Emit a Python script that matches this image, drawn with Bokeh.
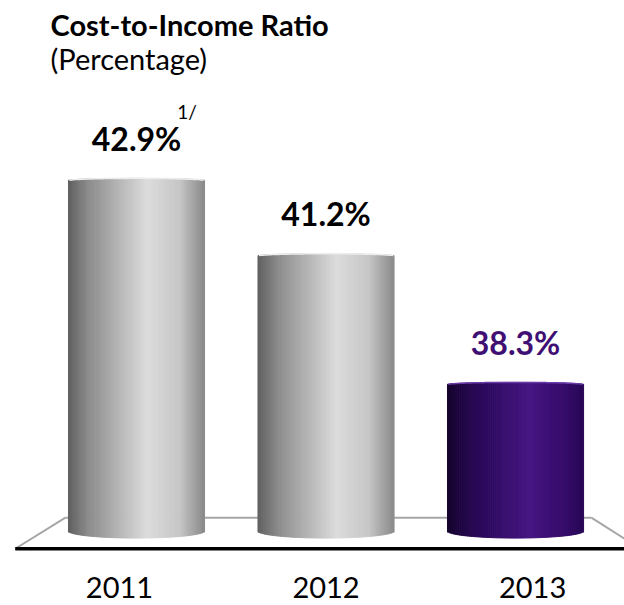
import numpy as np
from bokeh.plotting import figure
from bokeh.models import Range1d, Label, ColumnDataSource
from bokeh.core.properties import value
from bokeh.embed import file_html
from bokeh.resources import INLINE

# ---- data ----
years = ["2011", "2012", "2013"]
ratios = [42.9, 41.2, 38.3]
value_labels = ["42.9%", "41.2%", "38.3%"]
footnote = "1/"
highlight = [False, False, True]
title = "Cost-to-Income Ratio"
subtitle = "(Percentage)"
base_value = 35.0

FONT = "Lato"
W, H = 624, 605

p = figure(width=W, height=H, output_backend="svg", toolbar_location=None,
           x_axis_location=None, y_axis_location=None, min_border=0,
           x_range=Range1d(-0.7177, 2.575), y_range=Range1d(33.32, 46.96))
p.grid.visible = False
p.outline_line_color = None
p.background_fill_color = "white"
p.border_fill_color = "white"

# ---- floor ----
fl_back_y, fl_front_y = base_value + 0.30, base_value - 0.40
p.line([-0.375, 2.40], [fl_back_y, fl_back_y], line_color="#a6a6a6", line_width=2)
p.line([-0.375, -0.64], [fl_back_y, fl_front_y], line_color="#a6a6a6", line_width=2)
p.line([2.40, 2.60], [fl_back_y, fl_front_y + 0.16], line_color="#a6a6a6", line_width=2)
p.line([-0.64, 2.60], [fl_front_y, fl_front_y], line_color="black", line_width=3.5)

# ---- cylinders ----
gray_stops = [(0.0, (95, 95, 95)), (0.15, (140, 140, 140)), (0.58, (220, 220, 220)),
              (0.82, (198, 198, 198)), (1.0, (138, 138, 138))]
purple_stops = [(0.0, (22, 4, 45)), (0.2, (40, 8, 85)), (0.6, (70, 22, 130)),
                (0.85, (54, 11, 108)), (1.0, (40, 7, 86))]


def grad(stops, t):
    for (t0, c0), (t1, c1) in zip(stops[:-1], stops[1:]):
        if t0 <= t <= t1:
            f = (t - t0) / (t1 - t0)
            c = [int(round(a + (b - a) * f)) for a, b in zip(c0, c1)]
            return "#%02x%02x%02x" % tuple(c)
    return "#%02x%02x%02x" % stops[-1][1]


bw = 0.718
n = 70
for i, (v, hl) in enumerate(zip(ratios, highlight)):
    stops = purple_stops if hl else gray_stops
    l, r, t, b, col = [], [], [], [], []
    xs_top, ys_top = [], []
    for k in range(n):
        tm = (k + 0.5) / n
        u = 2 * tm - 1
        cv = np.sqrt(max(0.0, 1 - u * u))
        x0 = i - bw / 2 + k * bw / n
        l.append(x0)
        r.append(x0 + bw / n)
        t.append(v + 0.05 * cv)
        b.append(base_value - 0.16 * cv)
        col.append(grad(stops, tm))
        xs_top.append(x0 + bw / (2 * n))
        ys_top.append(v + 0.05 * cv)
    src = ColumnDataSource(dict(left=l, right=r, top=t, bottom=b, color=col))
    p.quad(left="left", right="right", top="top", bottom="bottom", source=src,
           fill_color="color", line_color="color", line_width=1)
    p.line(xs_top, ys_top, line_color="#6a3aa8" if hl else "#ececec", line_width=1.5)

# ---- value labels ----
lab_src = ColumnDataSource(dict(
    x=list(range(len(ratios))),
    y=[v + 0.95 for v in ratios],
    text=value_labels,
    color=["#3f0f73" if h else "black" for h in highlight]))
p.text(x="x", y="y", text="text", source=lab_src, text_color="color",
       text_font=value(FONT), text_font_style="bold", text_font_size="32px",
       text_align="center", text_baseline="middle")

p.add_layout(Label(x=0.215, y=ratios[0] + 1.55, text=footnote, text_font=FONT,
                   text_color="black", text_font_size="19px",
                   text_align="left", text_baseline="middle"))

# ---- category labels ----
yr_src = ColumnDataSource(dict(
    x=[i + (i - 1) * 0.09 for i in range(len(years))],
    y=[33.72] * len(years), text=years))
p.text(x="x", y="y", text="text", source=yr_src, text_font=value(FONT),
       text_font_size="29px", text_align="center", text_baseline="middle",
       text_color="black")

# ---- titles ----
p.add_layout(Label(x=50, y=H - 24, x_units="screen", y_units="screen", text=title,
                   text_font=FONT, text_font_style="bold", text_font_size="29px",
                   text_color="black", text_align="left", text_baseline="middle"))
p.add_layout(Label(x=50, y=H - 58, x_units="screen", y_units="screen", text=subtitle,
                   text_font=FONT, text_font_size="29px", text_color="black",
                   text_align="left", text_baseline="middle"))

open("out.html", "w").write(file_html(p, INLINE))
